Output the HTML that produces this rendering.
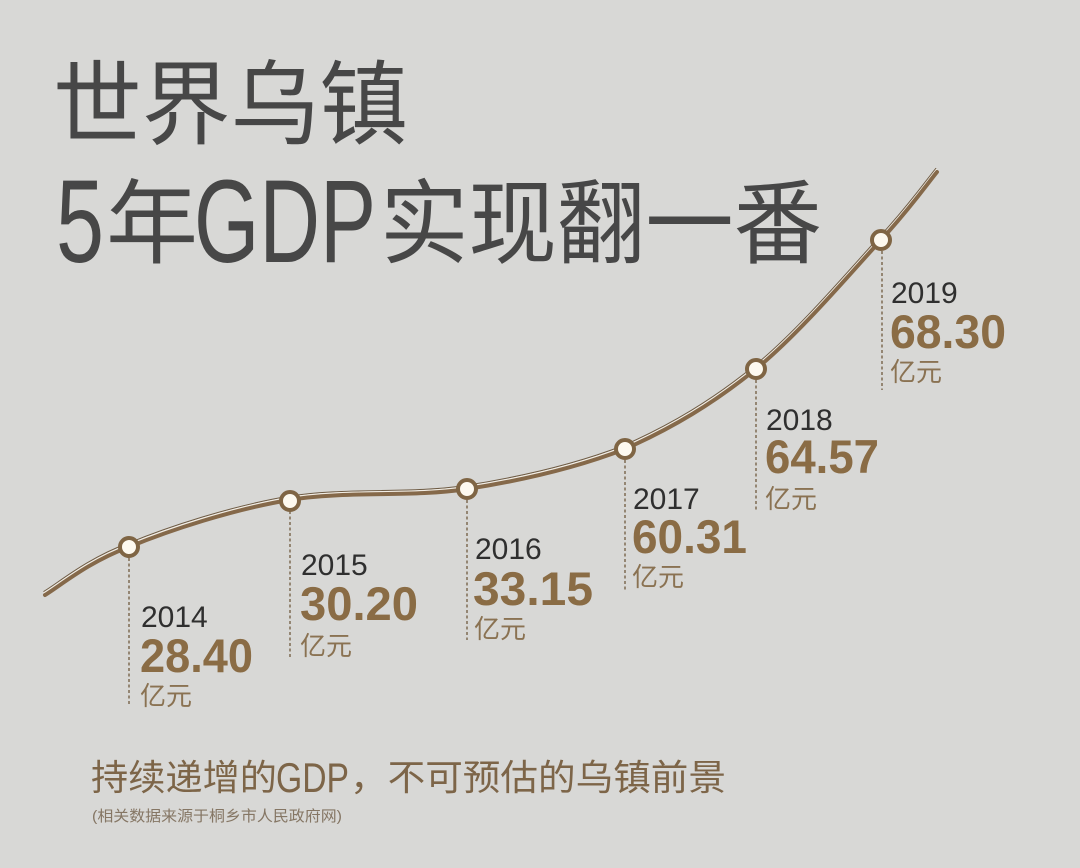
<!DOCTYPE html>
<html>
<head>
<meta charset="utf-8">
<style>
html,body{margin:0;padding:0;background:#d8d8d6;}
svg{display:block;}
.cjk{font-family:"Liberation Sans","Noto Sans CJK SC",sans-serif;}
.lat{font-family:"Liberation Sans",sans-serif;}
</style>
</head>
<body>
<svg width="1080" height="868" viewBox="0 0 1080 868" xmlns="http://www.w3.org/2000/svg">
  <rect width="1080" height="868" fill="#d8d8d6"/>

  <!-- Title -->
  <g fill="#474747">
    <text class="cjk" x="53" y="137" font-size="92" textLength="355" lengthAdjust="spacingAndGlyphs">世界乌镇</text>
    <text class="lat" x="56" y="262" font-size="118" textLength="48" lengthAdjust="spacingAndGlyphs">5</text>
    <text class="cjk" x="106" y="256" font-size="92" textLength="92" lengthAdjust="spacingAndGlyphs">年</text>
    <text class="lat" x="194" y="262" font-size="118" textLength="182" lengthAdjust="spacingAndGlyphs">GDP</text>
    <text class="cjk" x="380" y="256" font-size="92" textLength="442" lengthAdjust="spacingAndGlyphs">实现翻一番</text>
  </g>

  <!-- Curve -->
  <g fill="none" stroke-linecap="round">
    <path transform="translate(-1.2,-3.6)" stroke="#6e5b44" stroke-width="1"
      d="M45,595 C59,586.8 88.3,561.8 129,547 C169.7,530.2 232.7,509.5 289,500 C345.3,490.5 411.2,497.7 467,489 C522.8,480.3 575.8,468 625,449 C672.2,428 713.2,403.7 756,369 C798.8,334.3 850.8,272.8 881,240 C911.2,207.2 927.7,183.3 937,172"/>
    <path transform="translate(-0.6,-2.2)" stroke="#f3eee5" stroke-width="1.6"
      d="M45,595 C59,586.8 88.3,561.8 129,547 C169.7,530.2 232.7,509.5 289,500 C345.3,490.5 411.2,497.7 467,489 C522.8,480.3 575.8,468 625,449 C672.2,428 713.2,403.7 756,369 C798.8,334.3 850.8,272.8 881,240 C911.2,207.2 927.7,183.3 937,172"/>
    <path stroke="#85694a" stroke-width="4"
      d="M45,595 C59,586.8 88.3,561.8 129,547 C169.7,530.2 232.7,509.5 289,500 C345.3,490.5 411.2,497.7 467,489 C522.8,480.3 575.8,468 625,449 C672.2,428 713.2,403.7 756,369 C798.8,334.3 850.8,272.8 881,240 C911.2,207.2 927.7,183.3 937,172"/>
  </g>

  <!-- Dashed drop lines -->
  <g stroke="#7d6a52" stroke-width="1.5" stroke-dasharray="3 2.5">
    <line x1="129" y1="558" x2="129" y2="705"/>
    <line x1="290" y1="511" x2="290" y2="657"/>
    <line x1="467" y1="500" x2="467" y2="640"/>
    <line x1="625" y1="460" x2="625" y2="591"/>
    <line x1="756" y1="380" x2="756" y2="510"/>
    <line x1="882" y1="251" x2="882" y2="390"/>
  </g>

  <!-- Markers -->
  <g fill="#fdf9ef" stroke="#7f6544" stroke-width="4">
    <circle cx="129" cy="547" r="9"/>
    <circle cx="290" cy="501" r="9"/>
    <circle cx="467" cy="489" r="9"/>
    <circle cx="625" cy="449" r="9"/>
    <circle cx="756" cy="369" r="9"/>
    <circle cx="881" cy="240" r="9"/>
  </g>

  <!-- Years -->
  <g class="lat" fill="#2f2f2f" font-size="30">
    <text x="141" y="627">2014</text>
    <text x="301" y="575">2015</text>
    <text x="475" y="559">2016</text>
    <text x="633" y="509">2017</text>
    <text x="766" y="430">2018</text>
    <text x="891" y="303">2019</text>
  </g>

  <!-- Values -->
  <g class="lat" fill="#8a6c45" font-size="47" font-weight="bold">
    <text x="140" y="672" textLength="113" lengthAdjust="spacingAndGlyphs">28.40</text>
    <text x="300" y="620" textLength="118" lengthAdjust="spacingAndGlyphs">30.20</text>
    <text x="473" y="605" textLength="120" lengthAdjust="spacingAndGlyphs">33.15</text>
    <text x="632" y="553" textLength="115" lengthAdjust="spacingAndGlyphs">60.31</text>
    <text x="765" y="473" textLength="114" lengthAdjust="spacingAndGlyphs">64.57</text>
    <text x="890" y="348" textLength="116" lengthAdjust="spacingAndGlyphs">68.30</text>
  </g>

  <!-- Units -->
  <g class="cjk" fill="#8a7252" font-size="26">
    <text x="140" y="705">亿元</text>
    <text x="300" y="655">亿元</text>
    <text x="474" y="638">亿元</text>
    <text x="632" y="586">亿元</text>
    <text x="765" y="508">亿元</text>
    <text x="890" y="381">亿元</text>
  </g>

  <!-- Bottom caption -->
  <g fill="#7d6548">
    <text class="cjk" x="91" y="790" font-size="36" textLength="186" lengthAdjust="spacingAndGlyphs">持续递增的</text>
    <text class="lat" x="276" y="792" font-size="42" textLength="73" lengthAdjust="spacingAndGlyphs">GDP</text>
    <text class="cjk" x="350" y="790" font-size="36" textLength="376" lengthAdjust="spacingAndGlyphs">，不可预估的乌镇前景</text>
  </g>
  <text class="cjk" x="92" y="821" font-size="15" fill="#857664" textLength="250" lengthAdjust="spacingAndGlyphs">(相关数据来源于桐乡市人民政府网)</text>
</svg>
</body>
</html>
